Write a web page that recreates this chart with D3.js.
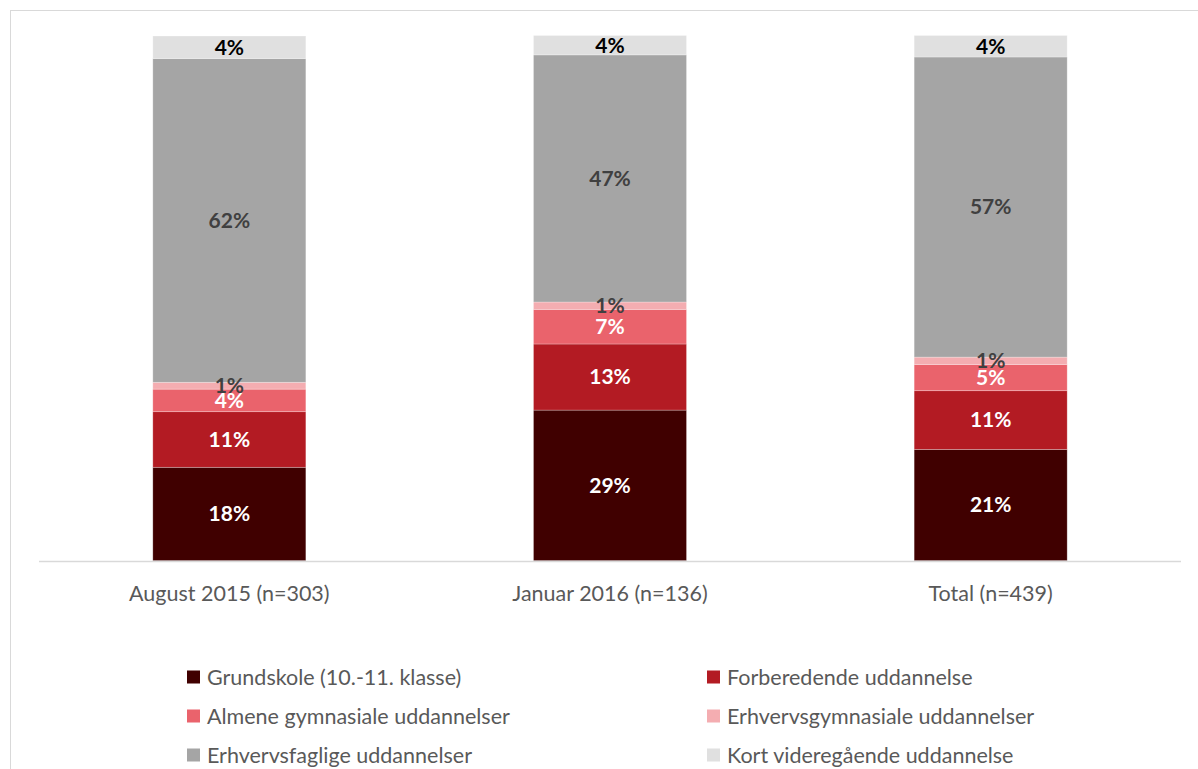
<!DOCTYPE html>
<html>
<head>
<meta charset="utf-8">
<script src="https://cdn.jsdelivr.net/npm/d3@7"></script>
<style>
  body { margin: 0; background: #fff; }
  svg { display: block; font-family: Lato, "Open Sans", sans-serif; }
</style>
</head>
<body>
<svg id="chart" width="1198" height="769"></svg>
<script>
// categories on the x axis
var categories = ['August 2015 (n=303)', 'Januar 2016 (n=136)', 'Total (n=439)'];

// series names (bottom to top of the stack)
var seriesNames = [
  'Grundskole (10.-11. klasse)',
  'Forberedende uddannelse',
  'Almene gymnasiale uddannelser',
  'Erhvervsgymnasiale uddannelser',
  'Erhvervsfaglige uddannelser',
  'Kort videregående uddannelse'
];

// percent per category, one array per series
var grundskole      = [17.8, 28.7, 21.2];
var forberedende    = [10.6, 12.6, 11.2];
var almene          = [4.3, 6.6, 5.0];
var erhvervsgym     = [1.3, 1.4, 1.4];
var erhvervsfaglige = [61.7, 47.1, 57.2];
var kortVideregaa   = [4.3, 3.7, 4.1];

var seriesValues = [grundskole, forberedende, almene, erhvervsgym, erhvervsfaglige, kortVideregaa];

var colors = ['#400000', '#B31B23', '#EA636C', '#F4ADB1', '#A5A5A5', '#E0E0E0'];
var labelColors = ['#ffffff', '#ffffff', '#ffffff', '#404040', '#404040', '#000000'];

var svg = d3.select('#chart');

// outer chart border (only top & left visible)
svg.append('line').attr('x1', 10).attr('x2', 1198).attr('y1', 10.5).attr('y2', 10.5)
  .attr('stroke', '#d9d9d9').attr('stroke-width', 1);
svg.append('line').attr('x1', 10.5).attr('x2', 10.5).attr('y1', 10).attr('y2', 769)
  .attr('stroke', '#d9d9d9').attr('stroke-width', 1);

// build rows for d3.stack
var rows = categories.map(function(c, i) {
  var r = { category: c };
  seriesNames.forEach(function(s, j) { r[s] = seriesValues[j][i]; });
  return r;
});
var stacked = d3.stack().keys(seriesNames)(rows);

var x = d3.scaleBand()
  .domain(categories)
  .range([39, 1181])
  .paddingInner(0.598)
  .paddingOuter(0.299);

var y = d3.scaleLinear()
  .domain([0, 100])
  .range([560.7, 36]);

var layers = svg.selectAll('g.layer')
  .data(stacked)
  .enter().append('g')
  .attr('class', 'layer')
  .attr('fill', function(d, i) { return colors[i]; });

layers.selectAll('rect')
  .data(function(d) { return d; })
  .enter().append('rect')
  .attr('x', function(d) { return x(d.data.category); })
  .attr('y', function(d) { return y(d[1]); })
  .attr('width', x.bandwidth())
  .attr('height', function(d) { return y(d[0]) - y(d[1]); })
  .attr('stroke', 'rgba(255,255,255,0.35)')
  .attr('stroke-width', 0.75);

// x axis line
svg.append('line')
  .attr('x1', x.range()[0]).attr('x2', x.range()[1])
  .attr('y1', 561.5).attr('y2', 561.5)
  .attr('stroke', '#d9d9d9').attr('stroke-width', 1.5);

// data labels
stacked.forEach(function(layer, i) {
  svg.selectAll('text.lbl' + i)
    .data(layer)
    .enter().append('text')
    .attr('class', 'lbl' + i)
    .attr('x', function(d) { return x(d.data.category) + x.bandwidth() / 2; })
    .attr('y', function(d) { return (y(d[0]) + y(d[1])) / 2; })
    .attr('dy', '0.35em')
    .attr('text-anchor', 'middle')
    .attr('font-size', '21px')
    .attr('font-weight', 'bold')
    .attr('fill', labelColors[i])
    .text(function(d) { return Math.round(d[1] - d[0]) + '%'; });
});

// category labels
svg.selectAll('text.cat')
  .data(categories)
  .enter().append('text')
  .attr('class', 'cat')
  .attr('x', function(d) { return x(d) + x.bandwidth() / 2; })
  .attr('y', 593)
  .attr('dy', '0.35em')
  .attr('text-anchor', 'middle')
  .attr('font-size', '21.5px')
  .attr('fill', '#595959')
  .text(function(d) { return d; });

// legend (2 columns, 3 rows)
var legend = svg.selectAll('g.leg')
  .data(seriesNames)
  .enter().append('g')
  .attr('class', 'leg')
  .attr('transform', function(d, i) {
    var col = i % 2, row = Math.floor(i / 2);
    return 'translate(' + (col === 0 ? 187 : 707) + ',' + (677 + row * 39) + ')';
  });

legend.append('rect')
  .attr('x', 0).attr('y', -6.5)
  .attr('width', 13).attr('height', 13)
  .attr('fill', function(d, i) { return colors[i]; });

legend.append('text')
  .attr('x', 20)
  .attr('y', 0)
  .attr('dy', '0.35em')
  .attr('font-size', '21.5px')
  .attr('fill', '#595959')
  .text(function(d) { return d; });
</script>
</body>
</html>
